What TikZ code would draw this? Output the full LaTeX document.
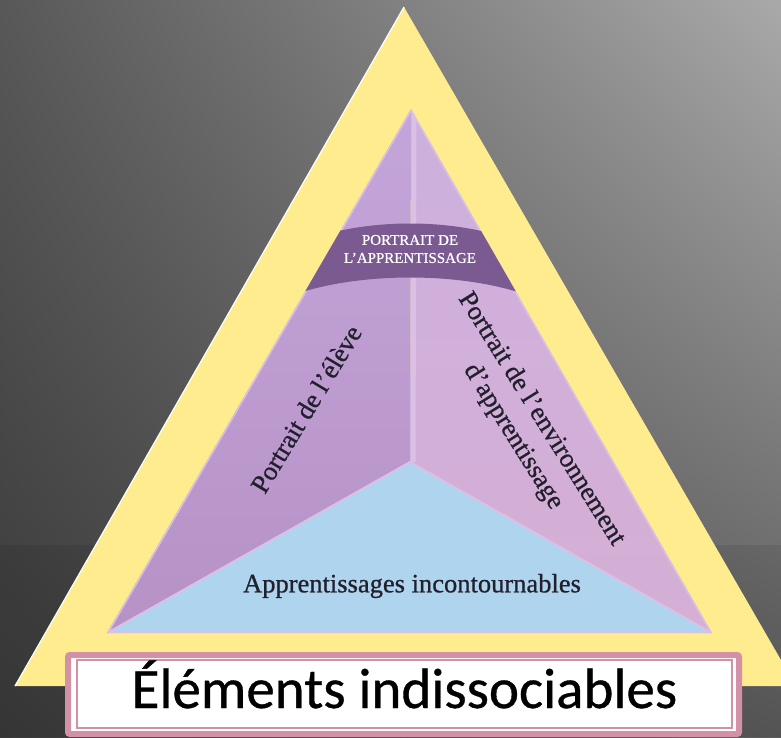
\documentclass[tikz,border=0pt]{standalone}
\usepackage{fontspec}
\setmainfont{Liberation Serif}
\newfontfamily\facefont[Ligatures=TeX, FakeBold=0.8]{Liberation Serif}
\newfontfamily\boxfont[FakeBold=0.6]{Carlito}
\usetikzlibrary{
	calc,											% 坐标计算
	shadings,										% 颜色渐变
}

\definecolor{BgLight}{HTML}{A9A9A9}
\definecolor{BgUpper}{HTML}{585858}
\definecolor{BgDark}{HTML}{3A3A3A}
\definecolor{BgLower}{HTML}{5C5C5C}
\definecolor{TriYellow}{HTML}{FFEC8F}
\definecolor{LeftFace}{HTML}{B692C6}
\definecolor{LeftTop}{HTML}{C4A5DA}
\definecolor{RightFace}{HTML}{D5AFD4}
\definecolor{RightTop}{HTML}{CDB0DE}
\definecolor{BaseBlue}{HTML}{AFD5EE}
\definecolor{EdgeLilac}{HTML}{D9C0E4}
\definecolor{BandPurple}{HTML}{7A5A90}
\definecolor{LabelInk}{HTML}{23202E}
\definecolor{BoxPink}{HTML}{D291A6}

\begin{document}
\begin{tikzpicture}[x=1pt, y=-1pt,
		facetext/.style={text=LabelInk, font=\facefont\fontsize{26.5}{33}\selectfont, align=center, inner sep=0pt},
		bandtext/.style={text=white, font=\facefont\fontsize{15}{18}\selectfont, align=center, inner sep=0pt}]
		\useasboundingbox (0,0) rectangle (781,737);
		% 背景渐变
		\shade[lower left=BgDark, lower right=BgLower, upper left=BgUpper, upper right=BgLight] (0,0) rectangle (781,737);
		\fill[black, opacity=0.08] (0,545) rectangle (781,737);
		% 外层黄色三角形
		\coordinate (ytop) at (404,7);
		\coordinate (yleft) at (15,686);
		\coordinate (yright) at (796,686);
		\fill[TriYellow] (ytop) -- (yleft) -- (yright) -- cycle;
		\draw[white, line width=1.2pt] (yleft) -- (ytop);
		% 内层三角形的三个面
		\coordinate (top) at (411,109);
		\coordinate (left) at (107,633);
		\coordinate (right) at (712,633);
		\coordinate (mid) at (410,462);
		\shade[top color=LeftTop, bottom color=LeftFace] (top) -- (mid) -- (left) -- cycle;
		\shade[top color=RightTop, bottom color=RightFace] (top) -- (right) -- (mid) -- cycle;
		\fill[BaseBlue] (mid) -- (right) -- (left) -- cycle;
		\begin{scope}
			\clip (top) -- (left) -- (right) -- cycle;
			\draw[EdgeLilac, line width=3pt, line join=round] (top) -- (left) -- (right) -- cycle;
			\draw[EdgeLilac, line width=2pt] (left) -- (mid) -- (right);
			\draw[EdgeLilac, line width=5pt] ([xshift=3pt]top) -- ([xshift=3pt]mid);
			% 弧形标签带
			\fill[BandPurple] (280,252) .. controls (350,214) and (470,214) .. (540,252)
				-- (540,300) .. controls (470,270) and (350,270) .. (280,300) -- cycle;
		\end{scope}
		\node[bandtext] (band) at (410,249) {PORTRAIT DE\\L’APPRENTISSAGE};
		% 三个面的文字
		\node[facetext, rotate=59] (eleve) at (306,409) {Portrait de l’élève};
		\node[facetext, rotate=-58] (milieu) at (527,428) {Portrait de l’environnement\\d’apprentissage};
		\node[facetext] (savoirs) at (412,586) {Apprentissages incontournables};
		% 底部标题框
		\draw[BoxPink, fill=white, line width=6pt, rounded corners=2pt] (68,655) rectangle (739,734);
		\draw[BoxPink, line width=1.5pt] (77,660) rectangle (732,728);
		\node[font=\boxfont\fontsize{57}{60}\selectfont, anchor=base, inner sep=0pt] (titre) at (404.5,708) {Éléments indissociables};
	\end{tikzpicture}
\end{document}
